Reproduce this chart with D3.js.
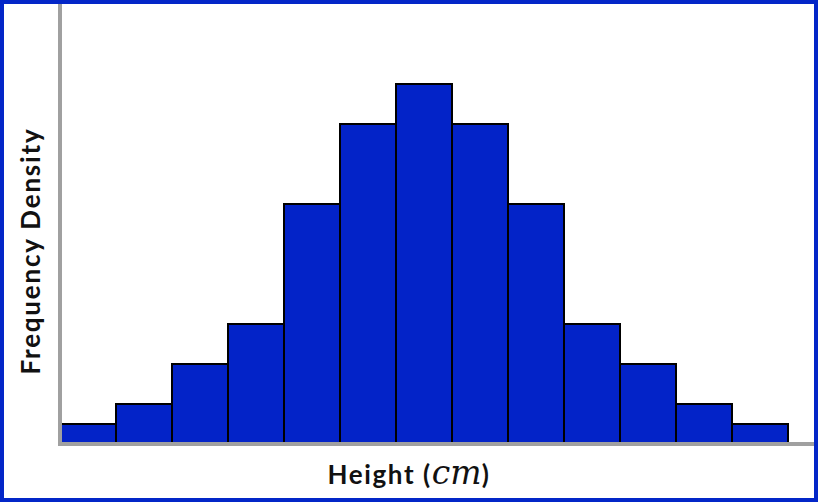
<!DOCTYPE html>
<html><head><meta charset="utf-8">
<script src="https://cdn.jsdelivr.net/npm/d3@7"></script>
<style>html,body{margin:0;padding:0;background:#fff;}svg{display:block;}</style>
</head><body>
<script>
const binStarts = [0,1,2,3,4,5,6,7,8,9,10,11,12];
const binEnds   = [1,2,3,4,5,6,7,8,9,10,11,12,13];
const frequencyDensity = [1,2,4,6,12,16,18,16,12,6,4,2,1];

const W = 818, H = 502;
const svg = d3.select("body").append("svg").attr("width", W).attr("height", H);
svg.append("rect").attr("x",0).attr("y",0).attr("width",W).attr("height",H).attr("fill","#fff");

const x = d3.scaleLinear().domain([0, 13]).range([60, 788]);
const y = d3.scaleLinear().domain([0, 22.2]).range([444, 0]);

svg.selectAll("rect.bar").data(frequencyDensity).join("rect")
  .attr("class","bar")
  .attr("x",(d,i)=>x(binStarts[i]))
  .attr("width",(d,i)=>x(binEnds[i])-x(binStarts[i]))
  .attr("y",d=>y(d))
  .attr("height",d=>y(0)-y(d))
  .attr("fill","#0323c8")
  .attr("stroke","#000")
  .attr("stroke-width",2);

// axes
svg.append("line").attr("x1",60).attr("x2",60).attr("y1",0).attr("y2",446)
  .attr("stroke","#a0a0a0").attr("stroke-width",4);
svg.append("line").attr("x1",58).attr("x2",W).attr("y1",444).attr("y2",444)
  .attr("stroke","#a0a0a0").attr("stroke-width",4);

// labels
const xl = svg.append("text").attr("x",409).attr("y",484).attr("text-anchor","middle")
  .attr("font-family","Lato, sans-serif").attr("font-weight",700).attr("font-size",26)
  .attr("letter-spacing","1.6px").attr("fill","#111");
xl.append("tspan").text("Height (");
xl.append("tspan").attr("font-family","'DejaVu Serif', serif").attr("font-style","italic").attr("font-weight",400).attr("font-size",33).attr("letter-spacing","0px").text("cm");
xl.append("tspan").text(")");

svg.append("text").attr("transform","translate(40,251) rotate(-90)").attr("text-anchor","middle")
  .attr("font-family","Lato, sans-serif").attr("font-weight",700).attr("font-size",26)
  .attr("letter-spacing","1.8px").attr("fill","#111")
  .text("Frequency Density");

// outer border
svg.append("rect").attr("x",2).attr("y",2).attr("width",W-4).attr("height",H-4)
  .attr("fill","none").attr("stroke","#0326c8").attr("stroke-width",4);
</script>
</body></html>
